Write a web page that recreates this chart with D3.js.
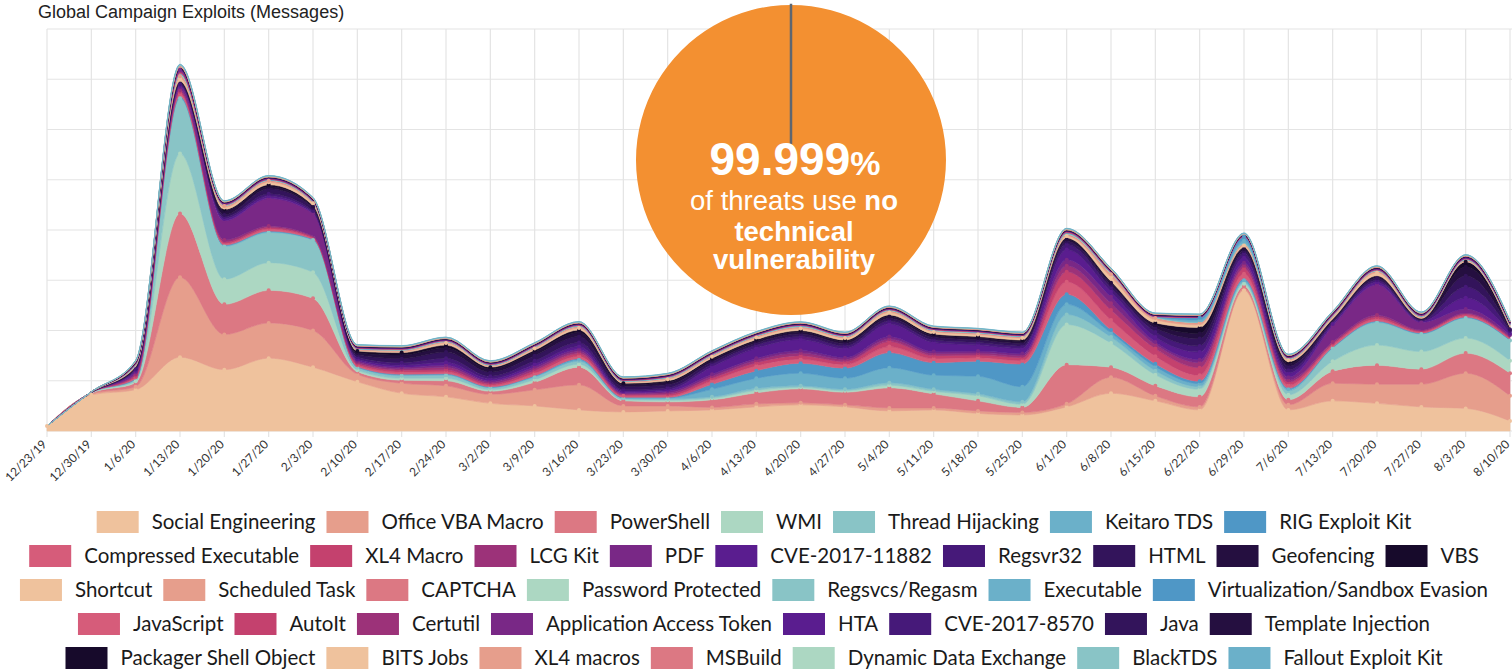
<!DOCTYPE html>
<html>
<head>
<meta charset="utf-8">
<script src="https://cdn.jsdelivr.net/npm/d3@7"></script>
<style>
  body { margin: 0; background: #fff; }
  svg { display: block; }
</style>
</head>
<body>
<svg id="chart" width="1512" height="670"></svg>
<script>
// semaines
const weeks = ["12/23/19","12/30/19","1/6/20","1/13/20","1/20/20","1/27/20","2/3/20","2/10/20","2/17/20","2/24/20","3/2/20","3/9/20","3/16/20","3/23/20","3/30/20","4/6/20","4/13/20","4/20/20","4/27/20","5/4/20","5/11/20","5/18/20","5/25/20","6/1/20","6/8/20","6/15/20","6/22/20","6/29/20","7/6/20","7/13/20","7/20/20","7/27/20","8/3/20","8/10/20"];

const names = ["Social Engineering","Office VBA Macro","PowerShell","WMI","Thread Hijacking","Keitaro TDS","RIG Exploit Kit",
  "Compressed Executable","XL4 Macro","LCG Kit","PDF","CVE-2017-11882","Regsvr32","HTML","Geofencing","VBS",
  "Shortcut","Scheduled Task","CAPTCHA","Password Protected","Regsvcs/Regasm","Executable","Virtualization/Sandbox Evasion",
  "JavaScript","AutoIt","Certutil","Application Access Token","HTA","CVE-2017-8570","Java","Template Injection",
  "Packager Shell Object","BITS Jobs","XL4 macros","MSBuild","Dynamic Data Exchange","BlackTDS","Fallout Exploit Kit"];

const palette = ["#efc29d","#e69e8c","#dc7883","#acd7c2","#89c4c6","#6bb0c9","#4f97c6","#d65c7a",
  "#c4416e","#9c3279","#792886","#5a1d8f","#461979","#33145b","#250f40","#170a2b"];

// valeurs hebdo (unité = une ligne de grille)
const socialEngineering = [0.1,0.72,0.82,1.47,1.22,1.45,1.27,0.98,0.75,0.68,0.55,0.5,0.42,0.38,0.4,0.42,0.48,0.52,0.48,0.4,0.42,0.35,0.32,0.48,0.75,0.6,0.42,2.8,0.42,0.6,0.55,0.48,0.45,0.2];
const officeVbaMacro = [0,0.02,0.06,1.59,0.7,0.7,0.73,0.15,0.2,0.22,0.18,0.32,0.5,0.12,0.1,0.05,0.06,0.04,0.04,0.06,0.04,0.05,0.05,0.06,0.32,0.1,0.06,0.03,0.1,0.35,0.38,0.45,0.7,0.5];
const powerShell = [0,0.01,0.08,1.27,0.6,0.65,0.64,0.05,0.06,0.1,0.06,0.15,0.35,0.1,0.08,0.15,0.22,0.28,0.25,0.4,0.28,0.2,0.1,0.78,0.2,0.2,0.2,0.05,0.1,0.24,0.38,0.3,0.4,0.45];
const wmi = [0,0.01,0.03,1.19,0.5,0.55,0.52,0.03,0.04,0.05,0.03,0.05,0.06,0.02,0.03,0.03,0.05,0.03,0.03,0.05,0.05,0.1,0.06,0.8,0.48,0.22,0.15,0.05,0.1,0.2,0.4,0.35,0.3,0.25];
const threadHijacking = [0,0.01,0.03,1.1,0.65,0.6,0.64,0.05,0.05,0.06,0.04,0.05,0.06,0.03,0.03,0.03,0.04,0.03,0.03,0.05,0.04,0.04,0.05,0.2,0.12,0.08,0.05,0.03,0.08,0.26,0.45,0.35,0.4,0.4];
const keitaroTds = [0,0,0.01,0.02,0.02,0.02,0.01,0.01,0.02,0.02,0.01,0.02,0.03,0.01,0.02,0.15,0.2,0.25,0.22,0.3,0.28,0.35,0.3,0.2,0.08,0.08,0.06,0.04,0.03,0.01,0.02,0.01,0.01,0.01];
const rigExploitKit = [0,0,0.01,0.02,0.01,0.01,0.01,0.01,0.01,0.01,0.01,0.01,0.02,0.01,0.01,0.1,0.15,0.2,0.2,0.3,0.25,0.3,0.45,0.2,0.06,0.06,0.05,0.03,0.02,0.01,0.01,0.01,0.01,0.01];
const compressedExecutable = [0,0,0.03,0.05,0.03,0.04,0.02,0.03,0.04,0.04,0.03,0.05,0.05,0.03,0.03,0.07,0.1,0.08,0.07,0.12,0.08,0.07,0.07,0.25,0.2,0.15,0.12,0.1,0.06,0.04,0.04,0.02,0.03,0.02];
const xl4Macro = [0,0,0.03,0.04,0.03,0.03,0.02,0.03,0.04,0.04,0.03,0.05,0.05,0.02,0.03,0.05,0.06,0.07,0.06,0.1,0.06,0.05,0.06,0.2,0.2,0.15,0.15,0.1,0.06,0.03,0.04,0.02,0.03,0.02];
const lcgKit = [0,0,0.03,0.03,0.04,0.03,0.02,0.03,0.03,0.05,0.03,0.04,0.04,0.02,0.03,0.04,0.05,0.05,0.04,0.05,0.04,0.04,0.04,0.12,0.13,0.08,0.1,0.06,0.04,0.03,0.04,0.02,0.02,0.02];
const pdf = [0,0,0.04,0.06,0.38,0.55,0.45,0.03,0.03,0.04,0.03,0.04,0.04,0.02,0.03,0.04,0.04,0.05,0.04,0.05,0.04,0.04,0.04,0.12,0.13,0.05,0.06,0.06,0.06,0.32,0.6,0.15,0.08,0.03];
const cve201711882 = [0,0,0.03,0.03,0.04,0.04,0.02,0.03,0.04,0.06,0.04,0.05,0.06,0.03,0.03,0.15,0.2,0.22,0.18,0.25,0.18,0.12,0.1,0.2,0.1,0.1,0.15,0.1,0.08,0.04,0.05,0.02,0.22,0.03];
const regsvr32 = [0,0,0.03,0.03,0.04,0.05,0.03,0.04,0.05,0.08,0.05,0.07,0.08,0.03,0.04,0.05,0.06,0.06,0.05,0.06,0.05,0.05,0.05,0.1,0.08,0.1,0.12,0.08,0.06,0.03,0.04,0.02,0.22,0.05];
const html = [0,0,0.02,0.02,0.04,0.1,0.06,0.04,0.08,0.12,0.08,0.1,0.12,0.06,0.06,0.05,0.04,0.05,0.05,0.05,0.05,0.05,0.05,0.06,0.06,0.08,0.15,0.05,0.08,0.03,0.04,0.02,0.22,0.03];
const geofencing = [0,0,0.02,0.02,0.08,0.04,0.03,0.04,0.07,0.08,0.06,0.07,0.08,0.04,0.05,0.04,0.04,0.04,0.04,0.04,0.04,0.04,0.04,0.04,0.04,0.06,0.1,0.04,0.05,0.02,0.03,0.01,0.18,0.02];
const vbs = [0,0,0.01,0.02,0.03,0.04,0.02,0.04,0.05,0.06,0.04,0.04,0.05,0.03,0.03,0.03,0.03,0.03,0.03,0.03,0.03,0.03,0.03,0.03,0.03,0.04,0.12,0.03,0.04,0.02,0.02,0.01,0.1,0.02];
const shortcut = [0,0.01,0.02,0.06,0.04,0.05,0.04,0.02,0.02,0.04,0.02,0.03,0.04,0.02,0.03,0.03,0.04,0.04,0.04,0.05,0.04,0.04,0.04,0.04,0.08,0.06,0.05,0.04,0.03,0.03,0.06,0.02,0.02,0.02];
const scheduledTask = [0,0,0.01,0.04,0.03,0.03,0.02,0.01,0.02,0.02,0.01,0.02,0.03,0.01,0.02,0.02,0.02,0.03,0.02,0.03,0.02,0.02,0.02,0.02,0.06,0.04,0.04,0.02,0.02,0.02,0.03,0.01,0.01,0.02];
const captcha = [0,0,0.005,0.01,0.005,0.005,0.005,0.005,0.005,0.005,0.005,0.005,0.005,0.005,0.005,0.005,0.005,0.005,0.005,0.005,0.005,0.005,0.005,0.01,0.01,0.005,0.005,0.005,0.005,0.005,0.005,0.005,0.005,0.005];
const passwordProtected = [0,0,0.005,0.02,0.005,0.005,0.005,0.005,0.005,0.005,0.005,0.005,0.005,0.005,0.005,0.005,0.005,0.005,0.005,0.005,0.005,0.01,0.005,0.01,0.01,0.005,0.005,0.01,0.005,0.005,0.005,0.005,0.005,0.005];
const regsvcsRegasm = [0,0,0.005,0.01,0.005,0.005,0.005,0.005,0.005,0.005,0.005,0.005,0.005,0.005,0.005,0.005,0.005,0.005,0.005,0.005,0.005,0.005,0.005,0.01,0.005,0.005,0.005,0.01,0.005,0.005,0.005,0.005,0.005,0.005];
const executable = [0,0,0.005,0.01,0.005,0.005,0.005,0.005,0.005,0.005,0.005,0.005,0.005,0.005,0.005,0.005,0.005,0.01,0.005,0.005,0.005,0.005,0.005,0.01,0.005,0.005,0.04,0.05,0.005,0.005,0.005,0.005,0.005,0.005];
const virtualizationSandboxEvasion = [0,0,0.005,0.01,0.005,0.005,0.005,0.005,0.005,0.005,0.005,0.005,0.005,0.005,0.005,0.005,0.005,0.005,0.005,0.005,0.005,0.005,0.005,0.005,0.005,0.005,0.05,0.08,0.005,0.005,0.005,0.005,0.005,0.005];
const javaScript = [0,0,0.005,0.01,0.005,0.005,0.005,0.005,0.005,0.005,0.005,0.005,0.005,0.005,0.005,0.005,0.005,0.005,0.005,0.005,0.005,0.005,0.005,0.01,0.01,0.005,0.005,0.005,0.005,0.005,0.005,0.005,0.005,0.005];
const autoIt = [0,0,0.005,0.01,0.005,0.005,0.005,0.005,0.005,0.005,0.005,0.005,0.005,0.005,0.005,0.005,0.005,0.005,0.005,0.005,0.005,0.005,0.005,0.01,0.005,0.005,0.005,0.005,0.005,0.005,0.005,0.005,0.005,0.005];
const certutil = [0,0,0.005,0.02,0.005,0.005,0.005,0.005,0.005,0.005,0.005,0.005,0.005,0.005,0.005,0.005,0.005,0.005,0.005,0.005,0.005,0.005,0.005,0.005,0.005,0.005,0.005,0.005,0.005,0.005,0.005,0.005,0.005,0.005];
const applicationAccessToken = [0,0,0.005,0.03,0.01,0.01,0.005,0.005,0.005,0.005,0.005,0.005,0.005,0.005,0.005,0.005,0.005,0.005,0.005,0.005,0.005,0.005,0.005,0.005,0.005,0.005,0.005,0.005,0.005,0.01,0.01,0.005,0.005,0.005];
const hta = [0,0,0.005,0.01,0.005,0.005,0.005,0.005,0.005,0.005,0.005,0.005,0.005,0.005,0.005,0.005,0.005,0.005,0.005,0.005,0.005,0.005,0.005,0.005,0.005,0.005,0.005,0.005,0.005,0.005,0.005,0.005,0.01,0.005];
const cve20178570 = [0,0,0.005,0.01,0.005,0.005,0.005,0.005,0.005,0.005,0.005,0.005,0.005,0.005,0.005,0.005,0.005,0.005,0.005,0.005,0.005,0.005,0.005,0.005,0.005,0.005,0.005,0.005,0.005,0.005,0.005,0.005,0.01,0.005];
const java = [0,0,0.005,0.01,0.005,0.005,0.005,0.005,0.005,0.005,0.005,0.005,0.005,0.005,0.005,0.005,0.005,0.005,0.005,0.005,0.005,0.005,0.005,0.005,0.005,0.005,0.005,0.005,0.005,0.005,0.005,0.005,0.005,0.005];
const templateInjection = [0,0,0.005,0.01,0.005,0.005,0.005,0.005,0.005,0.005,0.005,0.005,0.005,0.005,0.005,0.005,0.005,0.005,0.005,0.005,0.005,0.005,0.005,0.005,0.005,0.005,0.005,0.005,0.005,0.005,0.005,0.005,0.005,0.005];
const packagerShellObject = [0,0,0.005,0.01,0.005,0.005,0.005,0.005,0.005,0.005,0.005,0.005,0.005,0.005,0.005,0.005,0.005,0.005,0.005,0.005,0.005,0.005,0.005,0.005,0.005,0.005,0.005,0.005,0.005,0.005,0.005,0.005,0.005,0.005];
const bitsJobs = [0,0,0.005,0.01,0.005,0.005,0.005,0.005,0.005,0.005,0.005,0.005,0.005,0.005,0.005,0.005,0.005,0.005,0.005,0.005,0.005,0.005,0.005,0.01,0.01,0.005,0.005,0.005,0.005,0.005,0.01,0.005,0.005,0.005];
const xl4Macros = [0,0,0.005,0.01,0.005,0.005,0.005,0.005,0.005,0.005,0.005,0.005,0.005,0.005,0.005,0.005,0.005,0.005,0.005,0.005,0.005,0.005,0.005,0.005,0.01,0.005,0.005,0.005,0.005,0.005,0.005,0.005,0.005,0.005];
const msBuild = [0,0,0.005,0.01,0.005,0.005,0.005,0.005,0.005,0.005,0.005,0.005,0.005,0.005,0.005,0.005,0.005,0.005,0.005,0.005,0.005,0.005,0.005,0.005,0.005,0.005,0.005,0.005,0.005,0.005,0.005,0.005,0.005,0.005];
const dynamicDataExchange = [0,0,0.005,0.01,0.005,0.005,0.005,0.005,0.005,0.005,0.005,0.005,0.005,0.005,0.005,0.005,0.005,0.005,0.005,0.005,0.005,0.005,0.005,0.005,0.005,0.005,0.005,0.005,0.005,0.005,0.005,0.005,0.005,0.005];
const blackTds = [0,0,0.005,0.01,0.005,0.005,0.005,0.005,0.005,0.005,0.005,0.005,0.005,0.005,0.005,0.005,0.005,0.005,0.005,0.005,0.005,0.005,0.005,0.005,0.005,0.005,0.005,0.005,0.005,0.005,0.005,0.005,0.005,0.005];
const falloutExploitKit = [0,0,0.005,0.01,0.005,0.005,0.005,0.005,0.005,0.005,0.005,0.005,0.005,0.005,0.005,0.005,0.005,0.005,0.005,0.005,0.005,0.005,0.005,0.005,0.005,0.005,0.005,0.01,0.005,0.005,0.005,0.005,0.005,0.005];

const seriesValues = [socialEngineering, officeVbaMacro, powerShell, wmi, threadHijacking, keitaroTds, rigExploitKit,
  compressedExecutable, xl4Macro, lcgKit, pdf, cve201711882, regsvr32, html, geofencing, vbs,
  shortcut, scheduledTask, captcha, passwordProtected, regsvcsRegasm, executable, virtualizationSandboxEvasion,
  javaScript, autoIt, certutil, applicationAccessToken, hta, cve20178570, java, templateInjection,
  packagerShellObject, bitsJobs, xl4Macros, msBuild, dynamicDataExchange, blackTds, falloutExploitKit];

const gridLevels = [0,1,2,3,4,5,6,7,8];
const legendRows = [7, 9, 7, 8, 7];
const pieValues = [99.999, 0.001];

const svg = d3.select("#chart");
const plot = { left: 47, right: 1510, top: 29, bottom: 431 };

// taula per a la pila
const table = weeks.map((w, i) => {
  const row = { week: w };
  names.forEach((n, j) => { row[n] = seriesValues[j][i]; });
  return row;
});

const x = d3.scalePoint().domain(weeks).range([plot.left, plot.right]);
const y = d3.scaleLinear().domain([0, 8]).range([plot.bottom, plot.top]);
const color = d3.scaleOrdinal().domain(names).range(names.map((n, i) => palette[i % palette.length]));

// titre
svg.append("text")
  .attr("x", 38).attr("y", 18)
  .style("font-family", "'Liberation Sans', Arial, sans-serif")
  .style("font-size", "18px")
  .style("fill", "#222")
  .text("Global Campaign Exploits (Messages)");

// grille
const grid = svg.append("g");
grid.selectAll(".h").data(gridLevels).enter().append("line")
  .attr("x1", plot.left).attr("x2", 1512)
  .attr("y1", d => y(d)).attr("y2", d => y(d))
  .style("stroke", "#e4e4e4").style("stroke-width", 1.2);
grid.selectAll(".v").data(weeks).enter().append("line")
  .attr("x1", d => x(d)).attr("x2", d => x(d))
  .attr("y1", plot.top).attr("y2", plot.bottom + 6)
  .style("stroke", "#e4e4e4").style("stroke-width", 1.2);

// eix X
const xAxis = svg.append("g")
  .attr("transform", `translate(0,${plot.bottom})`)
  .call(d3.axisBottom(x).tickSize(0).tickPadding(0));
xAxis.select(".domain").remove();
xAxis.selectAll("text")
  .attr("transform", "translate(-3,11) rotate(-45)")
  .attr("dy", "0.35em")
  .style("text-anchor", "end")
  .style("font-family", "Lato, 'Open Sans', sans-serif")
  .style("font-size", "12px")
  .style("fill", "#333");

// àrees apilades
const stack = d3.stack().keys(names);
const layers = stack(table);

const area = d3.area()
  .x(d => x(d.data.week))
  .y0(d => y(d[0]))
  .y1(d => y(d[1]))
  .curve(d3.curveMonotoneX);

svg.append("g").selectAll("path")
  .data(layers)
  .enter()
  .append("path")
  .attr("d", area)
  .style("fill", d => color(d.key))
  .style("stroke", d => color(d.key))
  .style("stroke-width", 0.6);

// marqueurs
const markers = svg.append("g");
layers.forEach(layer => {
  markers.selectAll(null)
    .data(layer.filter(d => d[1] - d[0] >= 0.03))
    .enter()
    .append("circle")
    .attr("cx", d => x(d.data.week))
    .attr("cy", d => y(d[1]))
    .attr("r", 2)
    .style("fill", color(layer.key));
});

// cercle 99.999%
const pieG = svg.append("g").attr("transform", "translate(791,160)");
const pie = d3.pie().sort(null)(pieValues);
pieG.selectAll("path")
  .data(pie)
  .enter()
  .append("path")
  .attr("d", (d, i) => d3.arc().innerRadius(i === 0 ? 0 : 17).outerRadius(155)(d))
  .style("fill", (d, i) => i === 0 ? "#f39031" : "#5e6670")
  .style("stroke", (d, i) => i === 0 ? "none" : "#5e6670")
  .style("stroke-width", 2.5);

const ft = "'Liberation Sans', Arial, sans-serif";
const t1 = pieG.append("text").attr("x", 4).attr("y", 15)
  .style("text-anchor", "middle").style("font-family", ft).style("fill", "#fff").style("font-weight", "bold");
t1.append("tspan").style("font-size", "46px").text("99.999");
t1.append("tspan").style("font-size", "34px").text("%");

const t2 = pieG.append("text").attr("x", 3).attr("y", 50)
  .style("text-anchor", "middle").style("font-family", ft).style("fill", "#fff").style("font-size", "27.5px");
t2.append("tspan").text("of threats use ");
t2.append("tspan").style("font-weight", "bold").text("no");

pieG.append("text").attr("x", 3).attr("y", 81)
  .style("text-anchor", "middle").style("font-family", ft).style("fill", "#fff")
  .style("font-size", "27.5px").style("font-weight", "bold").text("technical");
pieG.append("text").attr("x", 3).attr("y", 109)
  .style("text-anchor", "middle").style("font-family", ft).style("fill", "#fff")
  .style("font-size", "27.5px").style("font-weight", "bold").text("vulnerability");

// llegenda
const legend = svg.append("g");
const swW = 42, swH = 22, gapText = 13, gapItem = 11, rowTop = 511, rowStep = 34, centerX = 754;
let start = 0;
legendRows.forEach((count, r) => {
  const rowNames = names.slice(start, start + count);
  const rowG = legend.append("g");
  let cx = 0;
  rowNames.forEach((n) => {
    rowG.append("rect")
      .attr("x", cx).attr("y", rowTop + r * rowStep)
      .attr("width", swW).attr("height", swH)
      .style("fill", color(n));
    const t = rowG.append("text")
      .attr("x", cx + swW + gapText).attr("y", rowTop + r * rowStep + swH / 2)
      .attr("dy", "0.35em")
      .style("font-family", "Lato, 'Open Sans', sans-serif")
      .style("font-size", "20.5px")
      .style("fill", "#1a1a1a")
      .text(n);
    cx += swW + gapText + t.node().getComputedTextLength() + gapItem;
  });
  const rowWidth = cx - gapItem;
  rowG.attr("transform", `translate(${centerX - rowWidth / 2},0)`);
  start += count;
});
</script>
</body>
</html>
